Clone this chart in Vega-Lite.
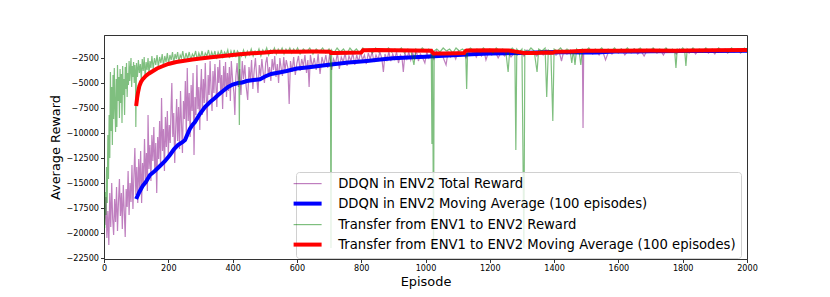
{
"$schema":"https://vega.github.io/schema/vega-lite/v6.json",
"width":643,"height":224,
"autosize":{"type":"none"},
"padding":{"left":104,"top":35,"right":83,"bottom":38},
"background":"#ffffff",
"config":{"view":{"stroke":"#333","strokeWidth":1},"font":"DejaVu Sans"},
"data":{"values":[
{"s":"a","e":0,"r":-17500},{"s":"a","e":3,"r":-19200},{"s":"a","e":6,"r":-16400},{"s":"a","e":9,"r":-20500},{"s":"a","e":12,"r":-17800},{"s":"a","e":15,"r":-21200},{"s":"a","e":18,"r":-16000},{"s":"a","e":21,"r":-19400},{"s":"a","e":24,"r":-15000},{"s":"a","e":27,"r":-18600},{"s":"a","e":30,"r":-20200},{"s":"a","e":33,"r":-16600},{"s":"a","e":36,"r":-18900},{"s":"a","e":39,"r":-15400},{"s":"a","e":42,"r":-19800},{"s":"a","e":45,"r":-16900},{"s":"a","e":48,"r":-14600},{"s":"a","e":51,"r":-18300},{"s":"a","e":54,"r":-16000},{"s":"a","e":57,"r":-19600},{"s":"a","e":60,"r":-15200},{"s":"a","e":63,"r":-17800},{"s":"a","e":66,"r":-20400},{"s":"a","e":69,"r":-15600},{"s":"a","e":72,"r":-17400},{"s":"a","e":75,"r":-13800},{"s":"a","e":78,"r":-18200},{"s":"a","e":81,"r":-15000},{"s":"a","e":84,"r":-16900},{"s":"a","e":87,"r":-13200},{"s":"a","e":90,"r":-17600},{"s":"a","e":93,"r":-14300},{"s":"a","e":96,"r":-11500},{"s":"a","e":99,"r":-16200},
{"s":"a","e":102,"r":-13400},{"s":"a","e":105,"r":-17000},{"s":"a","e":108,"r":-12600},{"s":"a","e":111,"r":-15600},{"s":"a","e":114,"r":-11800},{"s":"a","e":117,"r":-17000},{"s":"a","e":120,"r":-13000},{"s":"a","e":123,"r":-15200},{"s":"a","e":126,"r":-10600},{"s":"a","e":129,"r":-14600},{"s":"a","e":132,"r":-12000},{"s":"a","e":135,"r":-15800},{"s":"a","e":137,"r":-8200},{"s":"a","e":140,"r":-13600},{"s":"a","e":143,"r":-11200},{"s":"a","e":146,"r":-14800},{"s":"a","e":149,"r":-10200},{"s":"a","e":152,"r":-12800},{"s":"a","e":155,"r":-9400},{"s":"a","e":158,"r":-13900},{"s":"a","e":161,"r":-11000},{"s":"a","e":164,"r":-16000},{"s":"a","e":167,"r":-10400},{"s":"a","e":170,"r":-12600},{"s":"a","e":173,"r":-8800},{"s":"a","e":176,"r":-13400},{"s":"a","e":179,"r":-6500},{"s":"a","e":182,"r":-11800},{"s":"a","e":185,"r":-9600},{"s":"a","e":188,"r":-13800},{"s":"a","e":191,"r":-8400},{"s":"a","e":194,"r":-11400},{"s":"a","e":197,"r":-7800},{"s":"a","e":200,"r":-12200},{"s":"a","e":203,"r":-9200},{"s":"a","e":206,"r":-11000},{"s":"a","e":209,"r":-7000},{"s":"a","e":211,"r":-5000},{"s":"a","e":214,"r":-10400},{"s":"a","e":217,"r":-8000},{"s":"a","e":220,"r":-13000},{"s":"a","e":223,"r":-9600},{"s":"a","e":226,"r":-6600},{"s":"a","e":229,"r":-10800},{"s":"a","e":232,"r":-7400},{"s":"a","e":235,"r":-11600},{"s":"a","e":238,"r":-5800},{"s":"a","e":241,"r":-9000},{"s":"a","e":244,"r":-12000},{"s":"a","e":247,"r":-6800},{"s":"a","e":250,"r":-8600},{"s":"a","e":253,"r":-4800},{"s":"a","e":256,"r":-10200},{"s":"a","e":259,"r":-3500},{"s":"a","e":262,"r":-8800},{"s":"a","e":265,"r":-6000},{"s":"a","e":268,"r":-10400},{"s":"a","e":271,"r":-5200},{"s":"a","e":274,"r":-7800},{"s":"a","e":277,"r":-4000},{"s":"a","e":280,"r":-12200},{"s":"a","e":283,"r":-6400},{"s":"a","e":286,"r":-8200},{"s":"a","e":289,"r":-3200},{"s":"a","e":292,"r":-7600},{"s":"a","e":295,"r":-5400},{"s":"a","e":298,"r":-9700},
{"s":"a","e":300,"r":-6000},{"s":"a","e":303,"r":-3600},{"s":"a","e":306,"r":-8200},{"s":"a","e":309,"r":-4600},{"s":"a","e":312,"r":-7000},{"s":"a","e":315,"r":-3000},{"s":"a","e":318,"r":-6400},{"s":"a","e":321,"r":-8800},{"s":"a","e":324,"r":-4200},{"s":"a","e":327,"r":-6200},{"s":"a","e":330,"r":-2800},{"s":"a","e":333,"r":-5600},{"s":"a","e":336,"r":-7800},{"s":"a","e":339,"r":-3800},{"s":"a","e":342,"r":-6000},{"s":"a","e":345,"r":-3100},{"s":"a","e":348,"r":-5200},{"s":"a","e":351,"r":-7400},{"s":"a","e":354,"r":-3400},{"s":"a","e":357,"r":-5000},{"s":"a","e":360,"r":-2700},{"s":"a","e":363,"r":-6000},{"s":"a","e":366,"r":-4200},{"s":"a","e":369,"r":-7600},{"s":"a","e":372,"r":-3300},{"s":"a","e":375,"r":-5500},{"s":"a","e":378,"r":-2900},{"s":"a","e":381,"r":-6400},{"s":"a","e":384,"r":-4000},{"s":"a","e":387,"r":-5800},{"s":"a","e":390,"r":-3400},{"s":"a","e":393,"r":-6800},{"s":"a","e":396,"r":-2800},{"s":"a","e":400,"r":-4700},{"s":"a","e":404,"r":-6000},{"s":"a","e":407,"r":-8200},{"s":"a","e":410,"r":-4400},{"s":"a","e":414,"r":-3000},{"s":"a","e":418,"r":-5400},{"s":"a","e":422,"r":-3600},{"s":"a","e":426,"r":-6200},{"s":"a","e":430,"r":-2800},{"s":"a","e":434,"r":-4600},{"s":"a","e":438,"r":-3200},{"s":"a","e":442,"r":-5300},{"s":"a","e":447,"r":-6700},{"s":"a","e":451,"r":-3400},{"s":"a","e":455,"r":-4800},{"s":"a","e":459,"r":-2700},{"s":"a","e":463,"r":-5600},{"s":"a","e":467,"r":-3800},{"s":"a","e":471,"r":-2500},{"s":"a","e":475,"r":-4400},{"s":"a","e":479,"r":-6000},{"s":"a","e":483,"r":-3200},{"s":"a","e":487,"r":-4300},{"s":"a","e":491,"r":-2600},{"s":"a","e":495,"r":-3900},{"s":"a","e":499,"r":-5000},{"s":"a","e":503,"r":-3000},{"s":"a","e":507,"r":-2400},{"s":"a","e":511,"r":-4200},{"s":"a","e":515,"r":-3400},{"s":"a","e":519,"r":-4800},{"s":"a","e":523,"r":-2600},{"s":"a","e":527,"r":-3700},{"s":"a","e":531,"r":-2300},{"s":"a","e":535,"r":-4400},{"s":"a","e":539,"r":-3100},{"s":"a","e":543,"r":-5000},{"s":"a","e":547,"r":-2500},{"s":"a","e":551,"r":-3500},{"s":"a","e":555,"r":-4300},{"s":"a","e":559,"r":-2400},{"s":"a","e":563,"r":-3800},{"s":"a","e":567,"r":-2700},{"s":"a","e":572,"r":-3500},{"s":"a","e":576,"r":-7100},{"s":"a","e":580,"r":-2800},{"s":"a","e":585,"r":-3900},{"s":"a","e":590,"r":-2400},{"s":"a","e":595,"r":-4200},{"s":"a","e":600,"r":-3000},
{"s":"a","e":605,"r":-2300},{"s":"a","e":610,"r":-3800},{"s":"a","e":615,"r":-2600},{"s":"a","e":620,"r":-3300},{"s":"a","e":625,"r":-2200},{"s":"a","e":630,"r":-4000},{"s":"a","e":634,"r":-2700},{"s":"a","e":638,"r":-5400},{"s":"a","e":642,"r":-2200},{"s":"a","e":648,"r":-3400},{"s":"a","e":654,"r":-2500},{"s":"a","e":660,"r":-3700},{"s":"a","e":666,"r":-2100},{"s":"a","e":672,"r":-4100},{"s":"a","e":678,"r":-2400},{"s":"a","e":684,"r":-3200},{"s":"a","e":690,"r":-2200},{"s":"a","e":696,"r":-3500},{"s":"a","e":702,"r":-2100},{"s":"a","e":708,"r":-3700},{"s":"a","e":714,"r":-2600},{"s":"a","e":720,"r":-3100},{"s":"a","e":726,"r":-2000},{"s":"a","e":732,"r":-3600},{"s":"a","e":738,"r":-2400},{"s":"a","e":744,"r":-2900},{"s":"a","e":750,"r":-2000},{"s":"a","e":756,"r":-3300},{"s":"a","e":762,"r":-2300},{"s":"a","e":768,"r":-2800},{"s":"a","e":774,"r":-2000},{"s":"a","e":780,"r":-3200},{"s":"a","e":786,"r":-2200},{"s":"a","e":792,"r":-2900},{"s":"a","e":798,"r":-1900},{"s":"a","e":804,"r":-2700},{"s":"a","e":810,"r":-2200},{"s":"a","e":816,"r":-3100},{"s":"a","e":822,"r":-2000},{"s":"a","e":828,"r":-2600},{"s":"a","e":834,"r":-1900},{"s":"a","e":840,"r":-2900},{"s":"a","e":846,"r":-2200},{"s":"a","e":852,"r":-2700},{"s":"a","e":858,"r":-1900},{"s":"a","e":864,"r":-2500},{"s":"a","e":869,"r":-3900},{"s":"a","e":874,"r":-2100},{"s":"a","e":880,"r":-2700},{"s":"a","e":886,"r":-1900},{"s":"a","e":892,"r":-2800},{"s":"a","e":898,"r":-2100},{"s":"a","e":904,"r":-2600},{"s":"a","e":910,"r":-1900},{"s":"a","e":916,"r":-3000},{"s":"a","e":922,"r":-2200},{"s":"a","e":927,"r":-2500},{"s":"a","e":931,"r":-3900},{"s":"a","e":936,"r":-2000},{"s":"a","e":942,"r":-2600},{"s":"a","e":948,"r":-1900},{"s":"a","e":954,"r":-2700},{"s":"a","e":960,"r":-2000},{"s":"a","e":966,"r":-2500},{"s":"a","e":972,"r":-1800},{"s":"a","e":978,"r":-2800},{"s":"a","e":984,"r":-2100},{"s":"a","e":990,"r":-2400},{"s":"a","e":998,"r":-3000},{"s":"a","e":1004,"r":-1900},{"s":"a","e":1010,"r":-2500},{"s":"a","e":1018,"r":-2000},{"s":"a","e":1026,"r":-2600},{"s":"a","e":1034,"r":-1800},{"s":"a","e":1042,"r":-2400},{"s":"a","e":1050,"r":-2000},{"s":"a","e":1058,"r":-2700},{"s":"a","e":1064,"r":-3200},{"s":"a","e":1070,"r":-1900},{"s":"a","e":1078,"r":-2400},{"s":"a","e":1086,"r":-2000},{"s":"a","e":1094,"r":-2600},{"s":"a","e":1102,"r":-1800},{"s":"a","e":1110,"r":-2300},{"s":"a","e":1118,"r":-2000},{"s":"a","e":1126,"r":-2500},{"s":"a","e":1134,"r":-1900},{"s":"a","e":1142,"r":-2200},{"s":"a","e":1150,"r":-1800},{"s":"a","e":1158,"r":-2400},{"s":"a","e":1166,"r":-1900},{"s":"a","e":1174,"r":-2300},{"s":"a","e":1182,"r":-1800},{"s":"a","e":1188,"r":-2700},{"s":"a","e":1196,"r":-1900},{"s":"a","e":1206,"r":-2200},{"s":"a","e":1216,"r":-1800},{"s":"a","e":1226,"r":-2500},{"s":"a","e":1236,"r":-1900},{"s":"a","e":1246,"r":-2300},{"s":"a","e":1256,"r":-1800},{"s":"a","e":1266,"r":-2400},{"s":"a","e":1276,"r":-2000},{"s":"a","e":1286,"r":-2200},{"s":"a","e":1296,"r":-1800},{"s":"a","e":1306,"r":-2300},{"s":"a","e":1316,"r":-1700},{"s":"a","e":1326,"r":-2100},{"s":"a","e":1336,"r":-1900},{"s":"a","e":1346,"r":-2300},{"s":"a","e":1356,"r":-1800},{"s":"a","e":1366,"r":-2200},{"s":"a","e":1376,"r":-1700},{"s":"a","e":1386,"r":-2100},{"s":"a","e":1396,"r":-1800},{"s":"a","e":1406,"r":-2200},{"s":"a","e":1416,"r":-1900},{"s":"a","e":1423,"r":-2800},{"s":"a","e":1430,"r":-1800},{"s":"a","e":1440,"r":-2100},{"s":"a","e":1450,"r":-1700},{"s":"a","e":1460,"r":-2000},{"s":"a","e":1470,"r":-1800},{"s":"a","e":1480,"r":-2100},{"s":"a","e":1488,"r":-1900},{"s":"a","e":1490,"r":-9500},{"s":"a","e":1492,"r":-1800},{"s":"a","e":1500,"r":-2000},{"s":"a","e":1510,"r":-1700},{"s":"a","e":1520,"r":-2100},{"s":"a","e":1530,"r":-1800},{"s":"a","e":1540,"r":-2200},{"s":"a","e":1550,"r":-1700},{"s":"a","e":1560,"r":-2700},{"s":"a","e":1570,"r":-1800},{"s":"a","e":1580,"r":-2100},{"s":"a","e":1590,"r":-1700},{"s":"a","e":1600,"r":-2000},{"s":"a","e":1610,"r":-1600},{"s":"a","e":1620,"r":-2200},{"s":"a","e":1630,"r":-1800},{"s":"a","e":1640,"r":-2000},{"s":"a","e":1650,"r":-1600},{"s":"a","e":1660,"r":-2100},{"s":"a","e":1670,"r":-1800},{"s":"a","e":1680,"r":-2300},{"s":"a","e":1690,"r":-1700},{"s":"a","e":1700,"r":-1900},{"s":"a","e":1710,"r":-1600},{"s":"a","e":1720,"r":-2000},{"s":"a","e":1730,"r":-1700},{"s":"a","e":1740,"r":-2200},{"s":"a","e":1750,"r":-1600},{"s":"a","e":1760,"r":-1900},{"s":"a","e":1770,"r":-1700},{"s":"a","e":1780,"r":-2100},{"s":"a","e":1790,"r":-1600},{"s":"a","e":1800,"r":-1900},{"s":"a","e":1810,"r":-1700},{"s":"a","e":1820,"r":-2000},{"s":"a","e":1830,"r":-1600},{"s":"a","e":1840,"r":-2100},{"s":"a","e":1850,"r":-1700},{"s":"a","e":1860,"r":-1900},{"s":"a","e":1870,"r":-1600},{"s":"a","e":1880,"r":-2000},{"s":"a","e":1890,"r":-1700},{"s":"a","e":1900,"r":-2100},{"s":"a","e":1910,"r":-1600},{"s":"a","e":1920,"r":-1900},{"s":"a","e":1930,"r":-1700},{"s":"a","e":1940,"r":-2000},{"s":"a","e":1950,"r":-1600},{"s":"a","e":1960,"r":-1900},{"s":"a","e":1970,"r":-1700},{"s":"a","e":1980,"r":-2000},{"s":"a","e":1990,"r":-1600},{"s":"a","e":2000,"r":-1800},
{"s":"c","e":0,"r":-17600},{"s":"c","e":2,"r":-19500},{"s":"c","e":4,"r":-15900},{"s":"c","e":6,"r":-18200},{"s":"c","e":8,"r":-13400},{"s":"c","e":10,"r":-17000},{"s":"c","e":12,"r":-10200},{"s":"c","e":14,"r":-14600},{"s":"c","e":16,"r":-8200},{"s":"c","e":18,"r":-12500},{"s":"c","e":20,"r":-3900},{"s":"c","e":22,"r":-9800},{"s":"c","e":24,"r":-5400},{"s":"c","e":26,"r":-11200},{"s":"c","e":28,"r":-4200},{"s":"c","e":30,"r":-8600},{"s":"c","e":32,"r":-3500},{"s":"c","e":34,"r":-7400},{"s":"c","e":36,"r":-9900},{"s":"c","e":38,"r":-4600},{"s":"c","e":40,"r":-9400},{"s":"c","e":42,"r":-3200},{"s":"c","e":44,"r":-6800},{"s":"c","e":46,"r":-4400},{"s":"c","e":48,"r":-8500},{"s":"c","e":50,"r":-3600},{"s":"c","e":52,"r":-7000},{"s":"c","e":54,"r":-4100},{"s":"c","e":56,"r":-9000},{"s":"c","e":58,"r":-3300},{"s":"c","e":60,"r":-6200},{"s":"c","e":62,"r":-4600},{"s":"c","e":64,"r":-8200},{"s":"c","e":66,"r":-3400},{"s":"c","e":68,"r":-5600},{"s":"c","e":70,"r":-3000},{"s":"c","e":72,"r":-6400},{"s":"c","e":74,"r":-4000},{"s":"c","e":76,"r":-5200},{"s":"c","e":78,"r":-2800},{"s":"c","e":80,"r":-4800},{"s":"c","e":82,"r":-3600},{"s":"c","e":84,"r":-2500},{"s":"c","e":86,"r":-5400},{"s":"c","e":88,"r":-3300},{"s":"c","e":90,"r":-4400},{"s":"c","e":92,"r":-2900},{"s":"c","e":94,"r":-5000},{"s":"c","e":96,"r":-3200},{"s":"c","e":98,"r":-4200},{"s":"c","e":99,"r":-9400},{"s":"c","e":101,"r":-3000},{"s":"c","e":104,"r":-4400},{"s":"c","e":107,"r":-2700},{"s":"c","e":110,"r":-4000},{"s":"c","e":113,"r":-3100},{"s":"c","e":116,"r":-4600},{"s":"c","e":119,"r":-2600},{"s":"c","e":122,"r":-3800},{"s":"c","e":125,"r":-2400},{"s":"c","e":128,"r":-4500},{"s":"c","e":131,"r":-2900},{"s":"c","e":134,"r":-3700},{"s":"c","e":137,"r":-2500},{"s":"c","e":140,"r":-4100},{"s":"c","e":143,"r":-2800},{"s":"c","e":146,"r":-3500},{"s":"c","e":149,"r":-2300},
{"s":"c","e":153,"r":-3600},{"s":"c","e":157,"r":-2500},{"s":"c","e":161,"r":-3200},{"s":"c","e":165,"r":-2200},{"s":"c","e":169,"r":-3400},{"s":"c","e":173,"r":-2400},{"s":"c","e":177,"r":-3000},{"s":"c","e":181,"r":-2100},{"s":"c","e":185,"r":-3300},{"s":"c","e":189,"r":-2300},{"s":"c","e":193,"r":-2900},{"s":"c","e":197,"r":-2000},{"s":"c","e":201,"r":-3100},{"s":"c","e":205,"r":-2200},{"s":"c","e":209,"r":-2700},{"s":"c","e":213,"r":-1900},{"s":"c","e":217,"r":-3000},{"s":"c","e":221,"r":-2100},{"s":"c","e":225,"r":-2600},{"s":"c","e":229,"r":-1900},{"s":"c","e":233,"r":-2900},{"s":"c","e":237,"r":-2200},{"s":"c","e":241,"r":-2500},{"s":"c","e":245,"r":-1800},{"s":"c","e":250,"r":-2800},{"s":"c","e":255,"r":-2000},{"s":"c","e":260,"r":-2600},{"s":"c","e":265,"r":-1900},{"s":"c","e":270,"r":-2700},{"s":"c","e":275,"r":-2100},{"s":"c","e":280,"r":-2400},{"s":"c","e":285,"r":-1800},{"s":"c","e":290,"r":-2700},{"s":"c","e":295,"r":-2000},{"s":"c","e":300,"r":-2500},{"s":"c","e":305,"r":-1800},{"s":"c","e":310,"r":-2600},{"s":"c","e":315,"r":-2000},{"s":"c","e":320,"r":-2300},{"s":"c","e":325,"r":-1700},{"s":"c","e":330,"r":-2500},{"s":"c","e":335,"r":-1900},{"s":"c","e":340,"r":-2400},{"s":"c","e":345,"r":-1800},{"s":"c","e":350,"r":-2600},{"s":"c","e":355,"r":-1900},{"s":"c","e":360,"r":-2300},{"s":"c","e":365,"r":-1700},{"s":"c","e":370,"r":-2400},{"s":"c","e":375,"r":-1900},{"s":"c","e":380,"r":-2200},{"s":"c","e":385,"r":-1700},{"s":"c","e":390,"r":-2500},{"s":"c","e":395,"r":-1800},{"s":"c","e":400,"r":-2300},{"s":"c","e":405,"r":-1700},{"s":"c","e":410,"r":-2400},{"s":"c","e":415,"r":-1800},{"s":"c","e":419,"r":-2000},{"s":"c","e":421,"r":-9200},{"s":"c","e":423,"r":-1900},{"s":"c","e":428,"r":-2300},{"s":"c","e":434,"r":-1700},{"s":"c","e":440,"r":-2400},{"s":"c","e":446,"r":-1800},{"s":"c","e":452,"r":-2200},{"s":"c","e":458,"r":-1600},{"s":"c","e":464,"r":-2300},{"s":"c","e":470,"r":-1800},{"s":"c","e":476,"r":-2100},{"s":"c","e":482,"r":-1600},{"s":"c","e":488,"r":-2300},{"s":"c","e":494,"r":-1700},{"s":"c","e":500,"r":-2000},{"s":"c","e":506,"r":-1500},{"s":"c","e":512,"r":-2200},{"s":"c","e":518,"r":-1700},{"s":"c","e":524,"r":-2000},{"s":"c","e":530,"r":-1500},{"s":"c","e":536,"r":-2100},{"s":"c","e":542,"r":-1600},{"s":"c","e":548,"r":-1900},{"s":"c","e":554,"r":-1500},{"s":"c","e":560,"r":-2100},{"s":"c","e":566,"r":-1600},{"s":"c","e":572,"r":-1900},{"s":"c","e":578,"r":-1500},{"s":"c","e":584,"r":-2000},{"s":"c","e":590,"r":-1600},{"s":"c","e":596,"r":-1900},{"s":"c","e":602,"r":-1500},{"s":"c","e":610,"r":-2100},{"s":"c","e":620,"r":-1600},{"s":"c","e":630,"r":-1900},{"s":"c","e":640,"r":-1500},{"s":"c","e":650,"r":-2100},{"s":"c","e":660,"r":-1600},{"s":"c","e":670,"r":-1900},{"s":"c","e":680,"r":-1500},{"s":"c","e":690,"r":-2000},{"s":"c","e":700,"r":-1600},{"s":"c","e":704,"r":-1900},{"s":"c","e":706,"r":-21500},{"s":"c","e":708,"r":-1700},{"s":"c","e":715,"r":-2000},{"s":"c","e":725,"r":-1500},{"s":"c","e":735,"r":-1900},{"s":"c","e":745,"r":-1600},{"s":"c","e":755,"r":-2100},{"s":"c","e":765,"r":-1500},{"s":"c","e":775,"r":-1900},{"s":"c","e":785,"r":-1600},{"s":"c","e":795,"r":-2000},{"s":"c","e":805,"r":-1500},{"s":"c","e":815,"r":-1800},{"s":"c","e":825,"r":-1600},{"s":"c","e":835,"r":-2000},{"s":"c","e":845,"r":-1500},{"s":"c","e":855,"r":-1900},{"s":"c","e":865,"r":-1600},{"s":"c","e":875,"r":-1800},{"s":"c","e":885,"r":-1500},{"s":"c","e":895,"r":-1900},{"s":"c","e":905,"r":-1600},{"s":"c","e":915,"r":-1800},{"s":"c","e":925,"r":-1500},{"s":"c","e":935,"r":-2000},{"s":"c","e":945,"r":-1600},{"s":"c","e":955,"r":-1800},{"s":"c","e":964,"r":-3200},{"s":"c","e":970,"r":-1600},{"s":"c","e":980,"r":-1900},{"s":"c","e":990,"r":-1500},{"s":"c","e":1000,"r":-1800},{"s":"c","e":1010,"r":-1600},{"s":"c","e":1018,"r":-1900},{"s":"c","e":1020,"r":-11100},{"s":"c","e":1022,"r":-1700},{"s":"c","e":1025,"r":-21500},{"s":"c","e":1027,"r":-1800},{"s":"c","e":1035,"r":-1600},{"s":"c","e":1045,"r":-1900},{"s":"c","e":1055,"r":-1500},{"s":"c","e":1065,"r":-1800},{"s":"c","e":1075,"r":-1600},{"s":"c","e":1085,"r":-2000},{"s":"c","e":1095,"r":-1500},{"s":"c","e":1105,"r":-1800},{"s":"c","e":1115,"r":-1600},{"s":"c","e":1125,"r":-1900},{"s":"c","e":1128,"r":-5600},{"s":"c","e":1131,"r":-1700},{"s":"c","e":1140,"r":-1500},{"s":"c","e":1150,"r":-1800},{"s":"c","e":1160,"r":-1600},{"s":"c","e":1170,"r":-1900},{"s":"c","e":1180,"r":-1500},{"s":"c","e":1190,"r":-1800},{"s":"c","e":1200,"r":-1600},{"s":"c","e":1210,"r":-2000},{"s":"c","e":1220,"r":-1500},{"s":"c","e":1230,"r":-1800},{"s":"c","e":1240,"r":-1600},{"s":"c","e":1250,"r":-1900},{"s":"c","e":1257,"r":-3900},{"s":"c","e":1262,"r":-1700},{"s":"c","e":1270,"r":-1500},{"s":"c","e":1278,"r":-1800},{"s":"c","e":1281,"r":-11700},{"s":"c","e":1284,"r":-1600},{"s":"c","e":1292,"r":-1900},{"s":"c","e":1300,"r":-1600},{"s":"c","e":1306,"r":-21500},{"s":"c","e":1309,"r":-1700},{"s":"c","e":1318,"r":-1900},{"s":"c","e":1328,"r":-1500},{"s":"c","e":1338,"r":-1800},{"s":"c","e":1347,"r":-3900},{"s":"c","e":1352,"r":-1600},{"s":"c","e":1362,"r":-1800},{"s":"c","e":1372,"r":-1500},{"s":"c","e":1377,"r":-6400},{"s":"c","e":1382,"r":-1700},{"s":"c","e":1390,"r":-1900},{"s":"c","e":1396,"r":-8800},{"s":"c","e":1400,"r":-1600},{"s":"c","e":1410,"r":-1800},{"s":"c","e":1420,"r":-1500},{"s":"c","e":1430,"r":-1900},{"s":"c","e":1440,"r":-1600},{"s":"c","e":1450,"r":-1800},{"s":"c","e":1455,"r":-3000},{"s":"c","e":1460,"r":-1700},{"s":"c","e":1465,"r":-3200},{"s":"c","e":1470,"r":-1600},{"s":"c","e":1478,"r":-1900},{"s":"c","e":1483,"r":-3200},{"s":"c","e":1488,"r":-1600},{"s":"c","e":1498,"r":-1800},{"s":"c","e":1508,"r":-1500},{"s":"c","e":1518,"r":-1900},{"s":"c","e":1528,"r":-1600},{"s":"c","e":1538,"r":-1800},{"s":"c","e":1548,"r":-1500},{"s":"c","e":1558,"r":-1900},{"s":"c","e":1568,"r":-1600},{"s":"c","e":1578,"r":-1800},{"s":"c","e":1588,"r":-1500},{"s":"c","e":1598,"r":-1900},{"s":"c","e":1608,"r":-1600},{"s":"c","e":1618,"r":-1800},{"s":"c","e":1628,"r":-1500},{"s":"c","e":1638,"r":-1900},{"s":"c","e":1648,"r":-1600},{"s":"c","e":1658,"r":-1700},{"s":"c","e":1668,"r":-1500},{"s":"c","e":1678,"r":-1900},{"s":"c","e":1688,"r":-1600},{"s":"c","e":1698,"r":-1800},{"s":"c","e":1708,"r":-1500},{"s":"c","e":1718,"r":-1900},{"s":"c","e":1728,"r":-1600},{"s":"c","e":1738,"r":-1800},{"s":"c","e":1748,"r":-1500},{"s":"c","e":1758,"r":-1900},{"s":"c","e":1768,"r":-1600},{"s":"c","e":1775,"r":-1800},{"s":"c","e":1779,"r":-3500},{"s":"c","e":1783,"r":-1600},{"s":"c","e":1792,"r":-1800},{"s":"c","e":1800,"r":-1500},{"s":"c","e":1806,"r":-1700},{"s":"c","e":1810,"r":-3300},{"s":"c","e":1814,"r":-1600},{"s":"c","e":1822,"r":-1900},{"s":"c","e":1832,"r":-1500},{"s":"c","e":1842,"r":-1800},{"s":"c","e":1852,"r":-1600},{"s":"c","e":1862,"r":-1900},{"s":"c","e":1872,"r":-1500},{"s":"c","e":1882,"r":-1800},{"s":"c","e":1892,"r":-1600},{"s":"c","e":1902,"r":-1900},{"s":"c","e":1912,"r":-1500},{"s":"c","e":1922,"r":-1800},{"s":"c","e":1932,"r":-1600},{"s":"c","e":1942,"r":-1900},{"s":"c","e":1952,"r":-1500},{"s":"c","e":1962,"r":-1800},{"s":"c","e":1972,"r":-1600},{"s":"c","e":1982,"r":-1900},{"s":"c","e":1992,"r":-1500},{"s":"c","e":2000,"r":-1700},
{"s":"b","e":100,"r":-16600},{"s":"b","e":110,"r":-15900},{"s":"b","e":120,"r":-15300},{"s":"b","e":130,"r":-14900},{"s":"b","e":143,"r":-14200},{"s":"b","e":158,"r":-13800},{"s":"b","e":174,"r":-13300},{"s":"b","e":190,"r":-12800},{"s":"b","e":205,"r":-12200},{"s":"b","e":218,"r":-11600},{"s":"b","e":230,"r":-11200},{"s":"b","e":245,"r":-10900},{"s":"b","e":252,"r":-10700},{"s":"b","e":260,"r":-10100},{"s":"b","e":267,"r":-9600},{"s":"b","e":275,"r":-9200},{"s":"b","e":283,"r":-8900},{"s":"b","e":298,"r":-8100},{"s":"b","e":314,"r":-7400},{"s":"b","e":330,"r":-6900},{"s":"b","e":345,"r":-6500},{"s":"b","e":355,"r":-6200},{"s":"b","e":370,"r":-5800},{"s":"b","e":386,"r":-5400},{"s":"b","e":400,"r":-5150},{"s":"b","e":417,"r":-5000},{"s":"b","e":430,"r":-4950},{"s":"b","e":444,"r":-4800},{"s":"b","e":465,"r":-4700},{"s":"b","e":485,"r":-4620},{"s":"b","e":501,"r":-4350},{"s":"b","e":520,"r":-4100},{"s":"b","e":545,"r":-3950},{"s":"b","e":568,"r":-3800},{"s":"b","e":600,"r":-3550},{"s":"b","e":630,"r":-3440},{"s":"b","e":650,"r":-3370},{"s":"b","e":680,"r":-3250},{"s":"b","e":713,"r":-3130},{"s":"b","e":760,"r":-2950},{"s":"b","e":790,"r":-2880},{"s":"b","e":817,"r":-2800},{"s":"b","e":860,"r":-2650},{"s":"b","e":899,"r":-2530},{"s":"b","e":930,"r":-2480},{"s":"b","e":962,"r":-2430},{"s":"b","e":1000,"r":-2380},{"s":"b","e":1055,"r":-2270},{"s":"b","e":1100,"r":-2200},{"s":"b","e":1159,"r":-2100},{"s":"b","e":1200,"r":-2060},{"s":"b","e":1250,"r":-2020},{"s":"b","e":1300,"r":-1990},{"s":"b","e":1366,"r":-1930},{"s":"b","e":1420,"r":-1910},{"s":"b","e":1490,"r":-1950},{"s":"b","e":1530,"r":-1960},{"s":"b","e":1574,"r":-1880},{"s":"b","e":1590,"r":-1850},{"s":"b","e":1650,"r":-1840},{"s":"b","e":1700,"r":-1820},{"s":"b","e":1800,"r":-1800},{"s":"b","e":1900,"r":-1790},{"s":"b","e":2000,"r":-1770},
{"s":"d","e":100,"r":-7300},{"s":"d","e":103,"r":-6500},{"s":"d","e":106,"r":-5900},{"s":"d","e":110,"r":-5300},{"s":"d","e":115,"r":-4900},{"s":"d","e":120,"r":-4650},{"s":"d","e":130,"r":-4300},{"s":"d","e":140,"r":-4050},{"s":"d","e":150,"r":-3850},{"s":"d","e":165,"r":-3550},{"s":"d","e":180,"r":-3350},{"s":"d","e":200,"r":-3100},{"s":"d","e":225,"r":-2900},{"s":"d","e":250,"r":-2780},{"s":"d","e":275,"r":-2650},{"s":"d","e":300,"r":-2550},{"s":"d","e":333,"r":-2430},{"s":"d","e":370,"r":-2300},{"s":"d","e":400,"r":-2200},{"s":"d","e":423,"r":-2130},{"s":"d","e":460,"r":-2030},{"s":"d","e":500,"r":-1950},{"s":"d","e":526,"r":-1870},{"s":"d","e":560,"r":-1880},{"s":"d","e":600,"r":-1870},{"s":"d","e":650,"r":-1860},{"s":"d","e":703,"r":-1870},{"s":"d","e":706,"r":-2000},{"s":"d","e":720,"r":-2000},{"s":"d","e":760,"r":-1980},{"s":"d","e":800,"r":-1950},{"s":"d","e":806,"r":-1720},{"s":"d","e":850,"r":-1700},{"s":"d","e":900,"r":-1720},{"s":"d","e":960,"r":-1750},{"s":"d","e":1018,"r":-1780},{"s":"d","e":1020,"r":-1880},{"s":"d","e":1025,"r":-2050},{"s":"d","e":1060,"r":-2050},{"s":"d","e":1100,"r":-2020},{"s":"d","e":1120,"r":-2000},{"s":"d","e":1125,"r":-1790},{"s":"d","e":1128,"r":-1750},{"s":"d","e":1200,"r":-1730},{"s":"d","e":1260,"r":-1760},{"s":"d","e":1281,"r":-1860},{"s":"d","e":1306,"r":-2000},{"s":"d","e":1340,"r":-1990},{"s":"d","e":1380,"r":-1950},{"s":"d","e":1396,"r":-1980},{"s":"d","e":1403,"r":-1870},{"s":"d","e":1450,"r":-1860},{"s":"d","e":1496,"r":-1770},{"s":"d","e":1550,"r":-1780},{"s":"d","e":1600,"r":-1770},{"s":"d","e":1700,"r":-1760},{"s":"d","e":1780,"r":-1780},{"s":"d","e":1820,"r":-1760},{"s":"d","e":1900,"r":-1730},{"s":"d","e":2000,"r":-1700}
]},
"encoding":{
"x":{"field":"e","type":"quantitative","scale":{"domain":[0,2000],"nice":false,"zero":false},
"axis":{"values":[0,200,400,600,800,1000,1200,1400,1600,1800,2000],"format":"d","title":"Episode","grid":false,"tickSize":3.5,"tickColor":"#333","domainColor":"#333","labelFontSize":8.1,"labelColor":"#000","labelPadding":2,"titleFontSize":12.9,"titleFontWeight":"normal","titleColor":"#000","titlePadding":3,"labelFlush":false,"labelOverlap":false}},
"y":{"field":"r","type":"quantitative","scale":{"domain":[-22600,-200],"nice":false,"zero":false},
"axis":{"values":[-22500,-20000,-17500,-15000,-12500,-10000,-7500,-5000,-2500],"format":"d","title":"Average Reward","grid":false,"tickSize":3.5,"tickColor":"#333","domainColor":"#333","labelFontSize":8.1,"labelColor":"#000","labelPadding":2,"titleFontSize":12.9,"titleFontWeight":"normal","titleColor":"#000","titlePadding":3,"labelFlush":false,"labelOverlap":false}},
"color":{"field":"s","type":"nominal","scale":{"domain":["a","b","c","d"],"range":["#800080","#0000ff","#008000","#ff0000"]},
"legend":{"orient":"none","legendX":192,"legendY":137,"title":null,"labelFontSize":13.2,"labelColor":"#000","labelLimit":600,"symbolType":"M-4,0H4","symbolSize":49,"labelOffset":24,"padding":5,"rowPadding":5,"fillColor":"rgba(255,255,255,0.8)","strokeColor":"#d0d0d0","cornerRadius":3,
"labelExpr":"datum.label=='a'?'DDQN in ENV2 Total Reward':datum.label=='b'?'DDQN in ENV2 Moving Average (100 episodes)':datum.label=='c'?'Transfer from ENV1 to ENV2 Reward':'Transfer from ENV1 to ENV2 Moving Average (100 episodes)'"}},
"opacity":{"field":"s","type":"nominal","scale":{"type":"ordinal","domain":["a","b","c","d"],"range":[0.5,1,0.5,1]}},
"strokeWidth":{"field":"s","type":"nominal","scale":{"type":"ordinal","domain":["a","b","c","d"],"range":[1.2,4,1.2,4]}}
},
"layer":[
{"transform":[{"filter":"datum.s=='a'"}],"mark":{"type":"line","clip":true}},
{"transform":[{"filter":"datum.s=='b'"}],"mark":{"type":"line","clip":true}},
{"transform":[{"filter":"datum.s=='c'"}],"mark":{"type":"line","clip":true}},
{"transform":[{"filter":"datum.s=='d'"}],"mark":{"type":"line","clip":true}}
]
}
